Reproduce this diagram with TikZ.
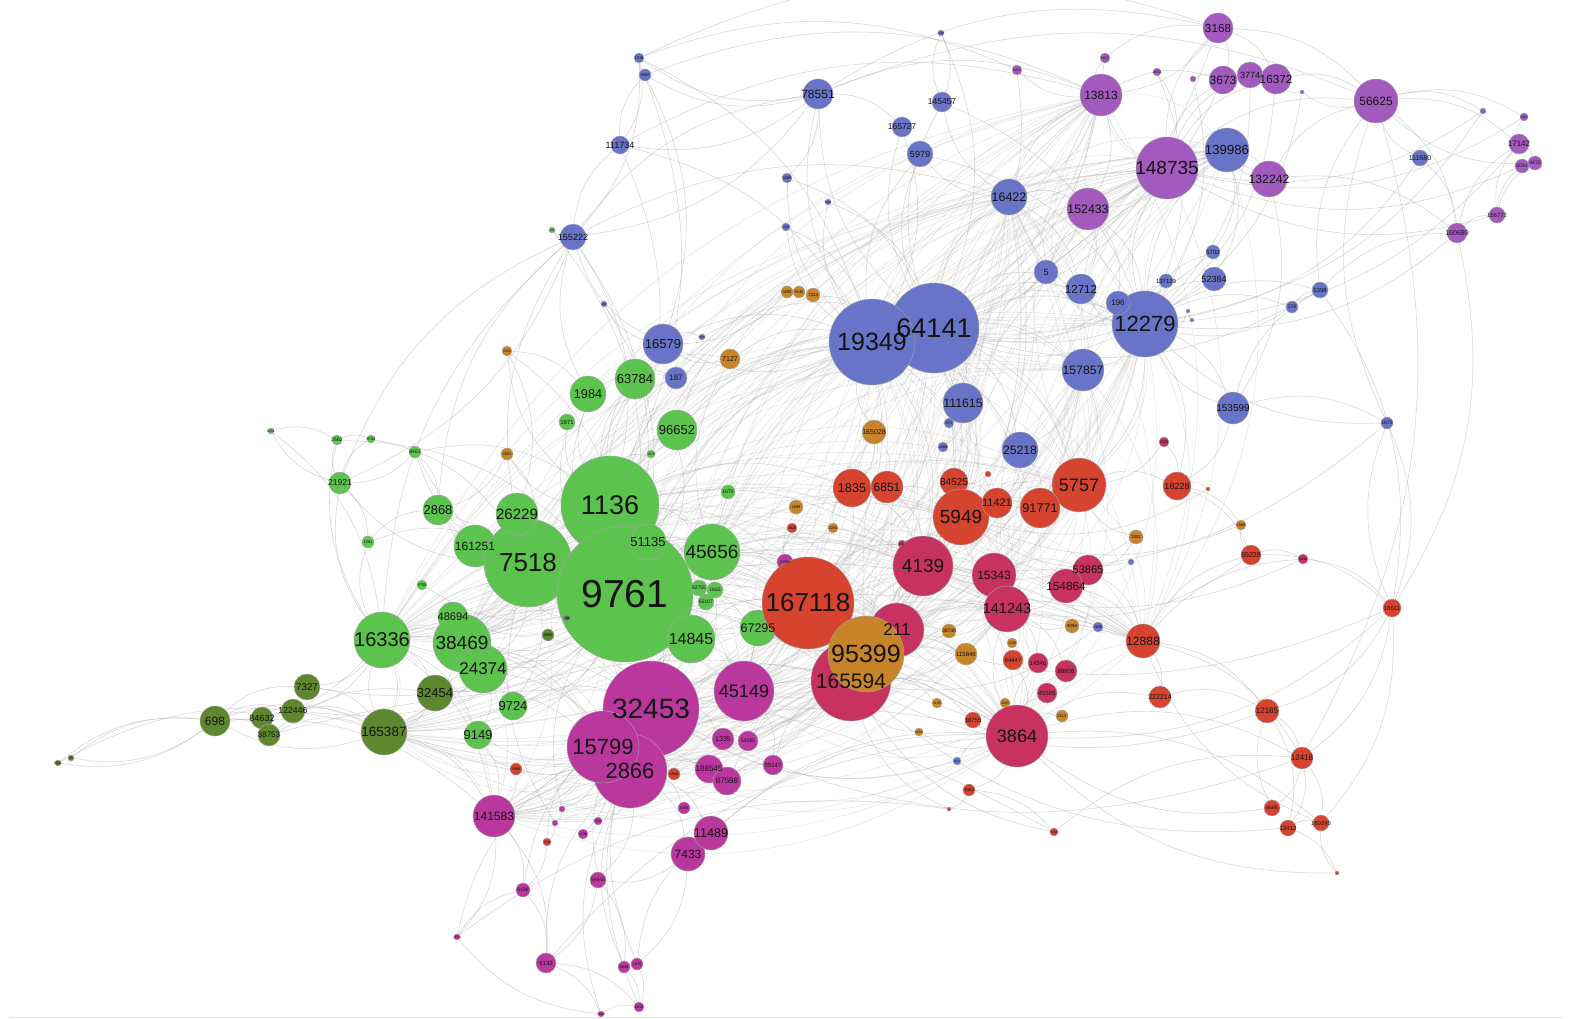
\documentclass[tikz,border=0pt]{standalone}
\usepackage{fontspec}
\setmainfont{Liberation Sans}
\pgfdeclarelayer{bg}
\pgfsetlayers{bg,main}
\definecolor{cB}{RGB}{104,116,200}
\definecolor{cP}{RGB}{162,90,190}
\definecolor{cG}{RGB}{92,196,78}
\definecolor{cD}{RGB}{94,136,46}
\definecolor{cO}{RGB}{200,132,40}
\definecolor{cR}{RGB}{214,68,48}
\definecolor{cC}{RGB}{200,50,96}
\definecolor{cM}{RGB}{186,56,158}
\tikzset{
  vtx/.style={circle, inner sep=0pt, draw=black!35, line width=0.4pt},
  lbl/.style={inner sep=0pt, text=black!92},
  edge/.style={draw=black!32, line width=0.55pt, opacity=0.5},
  edgeb/.style={draw=black!30, line width=0.5pt, opacity=0.35},
}
\def\NL{%
p1/1017/70/5/cP/1241/3.5,
p2/1105/58/5/cP/5617/3.5,
p3/1157/72/4/cP/14611/3.5,
p4/1193/79/3/cP//3,
b5/941/33/3/cB/1234/3,
b9/1302/92/2/cB//3,
b10/1483/111/3/cB//3,
p5/1524/117/4/cP/1654/3.5,
b1/639/58/5/cB/1518/4,
b2/645/75/6/cB/9988/4,
b111734/620/145/9/cB/111734/9,
b155222/573/237/13/cB/155222/9,
g1/552/230/3/cG/445/3,
b3/604/304/3/cB/162/3,
b4/702/337/3/cB/1567/3,
b6/787/178/5/cB/5089/4,
b7/828/202/3/cB/1441/3,
b8/786/227/4/cB/1445/3.5,
b78551/818/94/15/cB/78551/12,
b145457/942/102/10/cB/145457/8.5,
b165727/902/127/10/cB/165727/8.5,
b5979/920/154/13/cB/5979/9,
b16422/1009/197/18/cB/16422/12.5,
p13813/1101/95/21/cP/13813/12,
p152433/1088/209/21/cP/152433/12.3,
p148735/1167/168/31/cP/148735/19,
p3168/1218/28/15/cP/3168/11.7,
p3673/1223/80/14/cP/3673/12,
p16372/1276/79/15/cP/16372/11.7,
p3774/1250/75/13/cP/3774/9,
b139986/1227/150/22/cB/139986/13.2,
p132242/1269/179/18/cP/132242/12.2,
p56625/1376/101/22/cP/56625/12,
b111680/1420/158/8/cB/111680/7,
p17142/1519/144/10/cP/17142/8,
p6/1522/166/7/cP/6591/5,
p7/1535/163/7/cP/4473/5,
p156772/1497/215/8/cP/156772/6,
p160689/1457/233/10/cP/160689/7,
b5702/1213/252/7/cB/5702/6,
b52384/1214/279/12/cB/52384/9,
b1398/1320/290/8/cB/1398/6,
b379/1292/307/6/cB/379/5,
b11/1188/311/2/cB//3,
b12/1192/320/2/cB//3,
bfive/1046/272/12/cB/5/9,
b12712/1081/289/15/cB/12712/11.6,
b137129/1166/281/7/cB/137129/6,
b12279/1145/324/33/cB/12279/22,
b196/1118/303/12/cB/196/8,
o1/787/292/6/cO/3089/4,
o2/799/292/6/cO/8140/4,
o3/813/295/7/cO/7323/4.5,
b64141/934/328/45/cB/64141/27,
b19349/872/342/43/cB/19349/25,
b16579/663/344/20/cB/16579/13,
b187/676/378/11/cB/187/8,
o7127/730/359/10/cO/7127/7,
o4/507/351/5/cO/4450/3.5,
b157857/1083/370/21/cB/157857/12.2,
b111615/963/403/20/cB/111615/12.3,
b13/949/423/5/cB/870/4,
b14/943/447/5/cB/4868/4,
b25218/1020/450/18/cB/25218/12.2,
b153599/1233/408/16/cB/153599/10,
b15/1387/423/6/cB/1675/5,
o165028/874/432/12/cO/165028/7,
g2/271/431/3/cG/8551/3.5,
g2562/337/440/5/cG/2562/5,
g3/371/439/4/cG/8744/4,
g21921/340/483/11/cG/21921/8.5,
g4/368/542/6/cG/1281/4,
g8461/415/452/6/cG/8461/5,
o5/507/454/6/cO/4591/4,
g63784/635/379/20/cG/63784/13,
g1984/588/394/18/cG/1984/12.7,
g1971/567/422/8/cG/1971/6,
g96652/677/430/20/cG/96652/13,
g5/651/454/4/cG/1670/3.5,
g1670/728/492/7/cG/1670/5,
g2868/438/510/15/cG/2868/13,
g161251/475/546/21/cG/161251/12,
g7518/528/563/44/cG/7518/26,
g26229/517/514/21/cG/26229/15,
g1136/610/505/49/cG/1136/27,
g9761/625/594/68/cG/9761/39,
g51135/648/542/18/cG/51135/13,
g45656/712/552/28/cG/45656/19,
g62755/699/588/8/cG/62755/5,
g1665/715/590/8/cG/1665/5,
g62107/706/602/8/cG/62107/5,
g8700/422/585/5/cG/8700/4,
g48694/453/617/15/cG/48694/11,
g38469/462/643/29/cG/38469/19,
g24374/483/669/24/cG/24374/17,
g16336/382/640/28/cG/16336/20,
g14845/691/639/24/cG/14845/16,
g67295/758/628/18/cG/67295/12.5,
g6/567/618/3/black!60/1086/3,
d8550/548/635/6/cD/8550/4,
g9724/513/706/14/cG/9724/13,
g9149/478/735/14/cG/9149/13,
d7327/307/687/13/cD/7327/9.7,
d698/215/721/15/cD/698/12,
d84632/262/718/11/cD/84632/9,
d122446/293/711/12/cD/122446/8.7,
d38753/269/735/11/cD/38753/8,
d165387/384/732/23/cD/165387/13.5,
d32454/435/693/18/cD/32454/13,
d1/58/763/3/cD/6841/3.5,
d2/71/758/3/cD/86/3.5,
o6/796/507/7/cO/1699/4,
o7/833/528/5/cO/2284/4,
r2/792/528/5/cR/4615/4,
m1/785/562/8/cM/15582/4,
r1/988/474/3/cR//3,
c1/1164/442/5/cC/1625/4,
r1835/852/488/19/cR/1835/12.7,
r6851/887/487/16/cR/6851/12,
r84525/954/482/14/cR/84525/10,
r5949/961/517/28/cR/5949/19,
r11421/997/503/15/cR/11421/11,
r5757/1079/485/27/cR/5757/18,
r91771/1040/508/20/cR/91771/12.6,
r18228/1177/486/14/cR/18228/9,
r3/1208/489/2/cR//3,
o8/1136/537/7/cO/1881/4.5,
o15/1241/525/5/cO/1568/4,
r55228/1251/555/10/cR/55228/7,
c3/1303/559/5/cC/5414/4,
r18611/1392/608/9/cR/18611/6,
c2/902/544/4/cC/861/3.5,
c4139/923/566/30/cC/4139/19,
c15343/994/575/22/cC/15343/12,
c141243/1007/609/23/cC/141243/14.5,
c53865/1088/570/15/cC/53865/11,
c154864/1066/586/17/cC/154864/11.8,
b16/1131/562/3/cB//3,
o9/1072/626/7/cO/8086/4.5,
b17/1098/627/5/cB/4685/4,
r12888/1143/641/17/cR/12888/12,
r167118/808/603/46/cR/167118/26,
c165594/851/681/40/cC/165594/21,
c211/897/630/27/cC/211/17,
o95399/866/654/38/cO/95399/25,
o36749/949/631/7/cO/36749/5,
o10/1012/643/5/cO/1268/3.5,
o115846/966/654/11/cO/115846/6,
r84447/1013/660/10/cR/84447/6,
c14346/1038/663/10/cC/14346/6,
c88808/1066/671/11/cC/88808/6,
c45595/1047/693/10/cC/45595/6,
r222214/1160/697/11/cR/222214/7,
o11/937/703/5/cO/1196/3.5,
o12/1005/703/5/cO/4593/3.5,
o13/1062/716/6/cO/4113/4,
r36755/973/720/8/cR/36755/6,
o14/919/732/4/cO/6554/3.5,
c3864/1017/736/31/cC/3864/18,
b18/957/761/4/cB/1121/3,
r4/969/790/6/cR/4863/4.5,
c4/949/809/2/cC//3,
r5/1054/832/4/cR/9154/3.5,
r12185/1267/711/12/cR/12185/8,
r12418/1302/758/11/cR/12418/8,
r6/1272/808/8/cR/6686/5,
r12412/1288/828/8/cR/12412/6,
r160245/1321/823/8/cR/160245/6,
r7/1337/873/2/cR//3,
m32453/651/709/48/cM/32453/28,
m2866/630/771/37/cM/2866/22,
m15799/603/747/36/cM/15799/22,
m45149/744/691/30/cM/45149/18,
m1335/723/739/11/cM/1335/7,
m54285/748/741/10/cM/54285/5,
m188545/709/769/14/cM/188545/8,
m87598/727/781/14/cM/87598/8,
m55147/773/765/10/cM/55147/6,
r8/516/769/6/cR/5968/4,
r9/674/774/6/cR/4508/4,
m141583/494/816/21/cM/141583/12,
m2/684/808/6/cM/1068/4,
m7433/688/854/17/cM/7433/12,
m11489/711/833/17/cM/11489/12.6,
m3/562/809/3/cM//3,
m4/555/823/3/cM//3,
m5/598/821/4/cM/1534/3.5,
m6/583/834/5/cM/1196/3.5,
r10/547/842/4/cR/1548/3.5,
m54645/598/880/8/cM/54645/5,
m6198/523/890/7/cM/6198/5,
m7/457/937/3/cM/1154/3.5,
m6132/546/963/10/cM/6132/6,
m8/624/967/6/cM/6846/4,
m9/637/964/6/cM/1678/4,
m10/639/1007/5/cM/1612/4,
m11/601/1014/3/cM/1569/3.5%
}
\def\EL{%
g9761/g1136, g1136/g9761, g9761/g7518, g7518/g9761, g9761/g26229, g9761/g161251, g9761/g45656, g45656/g9761, g9761/g14845, g9761/g51135, g9761/g38469, g38469/g9761, g9761/g24374, g9761/g16336, g16336/g9761, g9761/g48694, g9761/g63784, g9761/g1984, g9761/g96652, g96652/g9761, g9761/g2868, g9761/g67295, g9761/g9724, g9761/g9149, g9761/g1971, g9761/g8461, g9761/g1670, g9761/g62755, g9761/g8700, g9761/d32454, g9761/d165387, g9761/d7327, g9761/d122446,
g1136/g7518, g1136/g26229, g1136/g63784, g1136/g1984, g1136/g96652, g1136/g45656, g1136/g2868, g1136/g161251, g1136/g14845, g1136/g16336, g1136/g38469, g1136/g1971, g1136/g5,
g7518/g161251, g7518/g26229, g7518/g38469, g7518/g16336, g7518/g2868, g7518/g48694, g7518/g24374, g7518/g21921, g7518/g8461, g7518/g9724,
g16336/g38469, g16336/g24374, g16336/g21921, g16336/d165387, d165387/g16336, g16336/d32454, g16336/d7327, g16336/d698, g16336/g4, g16336/g2562, g16336/g9149, g16336/d122446,
g38469/g24374, g38469/g48694, g38469/d165387, g38469/d32454, g24374/g9724, g24374/g9149, g24374/d32454,
g21921/g2562, g21921/g3, g21921/g2, g2/g2562, g2562/g3, g21921/g4, g4/g2868, g8461/g2868, g8461/g21921,
d698/d1, d1/d698, d698/d2, d2/d698, d698/d84632, d698/d122446, d698/d38753, d698/d7327, d698/d165387, d165387/d698, d84632/d122446, d38753/d165387, d7327/d165387, d122446/d165387, d32454/d165387, d84632/d165387, d38753/d32454,
g9761/b16579, g1136/b16579, g63784/b16579, g1984/b155222, b155222/g1136, g7518/b155222, g16336/b155222, g2868/b155222, b155222/g21921, g1136/b19349, g9761/b19349, g9761/b64141, g96652/b64141, g1984/b187, g63784/b187,
g9761/r167118, r167118/g9761, g45656/r167118, g14845/r167118, g67295/r167118, g9761/c165594, g9761/o95399, g9761/c4139, g1136/c4139, g9761/r5949, g1136/r1835, g45656/c211, g14845/c165594, g9761/m32453, m32453/g9761, g9761/m15799, g9761/m2866, g7518/m2866, g38469/m15799, g24374/m32453, g9761/m45149, g14845/m45149, g16336/m141583, d165387/m141583, d165387/c3864, g7518/c3864, g38469/r12888, d32454/m15799, g9149/m141583, g9724/m32453, g24374/m2866, g45656/o7127, g1136/o5, o5/g2868, o4/g1984, o4/g26229, g1136/o4, g63784/o7127, g96652/o1, g9761/o1, g1136/o3, d8550/g9761, g6/g7518,
b19349/b64141, b64141/b19349, b64141/b12279, b12279/b64141, b64141/b16422, b64141/b111615, b19349/b111615, b19349/b16579, b16579/b19349, b19349/b78551, b64141/b78551, b19349/b5979, b64141/b5979, b64141/b165727, b64141/b145457, b64141/b157857, b19349/b25218, b64141/b12712, b64141/bfive, b12279/b12712, b12279/b196, b12279/bfive, b12279/b157857, b12279/b52384, b12279/b139986, b12279/p148735, b12279/b5702, b12279/b137129, b12279/b153599, b12279/b1398, b12279/b379, b12279/b16422, b16422/p152433, b16422/b5979, b16422/b145457, b16422/bfive, b16422/b12712, b16422/p13813, b78551/b111734, b78551/b155222, b155222/b111734, b111734/b2, b2/b1, b1/b111734, b155222/g1, b78551/b165727, b78551/b2, b78551/b1, b78551/p13813, b1/p1, b2/p13813, b78551/b6, b19349/b6, b19349/b8, b19349/b7, b16579/b155222, b16579/b3, b16579/b4, b16579/b187, b64141/b25218, b111615/b13, b111615/b14, b111615/r5949, b19349/r167118, b64141/r5949, b64141/c4139, b19349/c4139, b64141/r5757, b157857/r5757, b157857/b25218, b25218/r91771, b12279/r5757, b12279/r18228, b139986/b52384, b139986/b5702, b139986/p132242, b153599/r18228, b153599/b12279, b153599/b1398, b153599/b15, b15/r18611, r18611/b15, b15/p56625, b111680/p56625, b111680/p160689, b1398/p160689, b1398/p56625, b379/b1398, b5702/b52384, b111615/r84525, b25218/r11421, b12/b11, b11/b12279,
p148735/p13813, p148735/p3673, p148735/p3168, p148735/p132242, p148735/b139986, p148735/p56625, p148735/p152433, p148735/p16372, p148735/p3774, p3168/p3673, p3168/p13813, p3168/p56625, p3168/p16372, p3673/p3774, p3774/p16372, p16372/p56625, p13813/p152433, p13813/p3673, p13813/p1, p13813/p2, p2/p3168, p3/p148735, p4/p3673, p56625/p17142, p56625/p160689, p56625/b10, p56625/p5, p160689/p156772, p156772/p6, p156772/p7, p17142/p5, p17142/p6, p6/p7, p17142/p7, p160689/p17142, p156772/p17142, p132242/p56625, p132242/b139986, p132242/p160689, p152433/b12712, p152433/b196, p13813/b16422, b78551/p3168, p56625/b9, b9/p16372, p132242/b153599, b5/b145457, b145457/b5, b1/p3168, b78551/p56625, b111734/p13813, b155222/b16422, b155222/b78551, g21921/b155222,
r167118/c165594, c165594/r167118, r167118/o95399, r167118/c211, c211/c165594, o95399/c165594, c211/c4139, c4139/r5949, r5949/r84525, r5949/r11421, r5949/r91771, r5949/r5757, r91771/r5757, r5757/r18228, r1835/r6851, r1835/r167118, r6851/r5949, r6851/c4139, r1835/c4139, r84525/r11421, r5757/r11421, c4139/c15343, c15343/c141243, c141243/c211, c15343/c53865, c53865/c154864, c154864/c141243, c141243/c165594, c4139/c141243, c15343/r5949, c211/o95399, o95399/c141243, c165594/c3864, c3864/c141243, c3864/c88808, c3864/c45595, c3864/c14346, r84447/c3864, c165594/r36755, c165594/o11, r167118/o6, r167118/r2, r167118/o7, o7/r1835, r167118/c2, c2/c4139, r167118/m1, o95399/o36749, o95399/o115846, c165594/o115846, c141243/r84447, c141243/c14346, c141243/c88808, c154864/r12888, c53865/r12888, r12888/r222214, r12888/r55228, r12888/c3, r12888/r12185, r12888/r12418, r55228/r18611, r55228/o15, r55228/c3, c3/r18611, r18228/o15, r18228/r3, r18228/r55228, r12185/r12418, r12418/r6, r12418/r12412, r12418/r160245, r12412/r160245, r12412/r7, r7/r160245, r12185/r12412, r6/r12185, r222214/r12185, c3864/r222214, c3864/r12418, c3864/r4, r4/c4, r4/r5, r5/r12418, c3864/o13, c3864/o12, c3864/o14, o14/c165594, r36755/c3864, r18611/r12418, r18611/r12185, r18611/r160245, c1/r5757, c1/r18228, o8/r5757, o8/c53865, o9/c141243, b17/c154864, b16/c53865, o10/c141243, o165028/b19349, o165028/r1835, o165028/r6851, o1/o2, o2/o3, o3/b19349, o1/b16579, o7127/b16579, o7127/b19349, r1/r84525, b13/b14, b18/c3864, r84525/c4139, r11421/r91771, p56625/r12418, p160689/r18611, b1398/r18611, c3864/r160245,
m32453/m15799, m15799/m32453, m32453/m2866, m15799/m2866, m2866/m15799, m32453/m45149, m45149/m32453, m32453/c165594, m45149/c165594, m45149/r167118, m45149/o95399, m32453/r167118, m2866/c165594, m32453/m1335, m45149/m1335, m45149/m54285, m1335/m54285, m2866/m188545, m2866/m87598, m188545/m87598, m87598/m55147, m45149/m55147, m2866/m11489, m2866/m7433, m11489/m7433, m2866/m2, m2/m11489, m15799/m141583, m141583/m2866, m141583/m6198, m141583/m7, m7/m6198, m6198/m6132, m141583/m6132, m2866/m54645, m54645/m8, m54645/m6132, m6132/m10, m8/m10, m9/m10, m8/m9, m9/m11489, m7433/m9, m6132/m11, m11/m10, m2866/m5, m5/m6, m15799/m6, m15799/m3, m3/m4, m4/r10, r10/m6198, m15799/r8, r8/m141583, r8/g9149, m2866/r9, r9/m188545, m7433/m54645, m11489/c3864, m7433/c3864, m45149/c3864, m55147/c165594, m1/m45149, m54285/c165594, m87598/c165594, m15799/g9149, m32453/g14845,
d165387/r12888, g16336/c3864, m141583/c3864, d698/m141583, m6132/c3864, m7/c4, d38753/r5, m11/m7,
b5/b64141, b1/b19349, b2/g1136, p5/p148735, b10/p148735, p7/p56625, r7/c3864, m10/m32453, m11/m2866, d1/d165387, g2/g16336, g3/g7518, g2562/g9761, b3/g9761, b4/b64141, b6/b64141, b7/b64141, b8/b19349, p1/b64141, p2/b64141, p3/b12279, p4/b12279, b9/b12279, b10/b12279, p6/p148735, b15/b12279, b15/c4139, r18611/c3864, r18611/r167118, r12185/c165594, r12418/m32453, r6/c3864, r12412/c165594, r160245/r12888, r55228/c141243, c3/c4139, o15/r5949, r3/r5949, o8/c4139, b16/r5949, b17/c165594, r5/c165594, c4/c165594, b18/m32453, m8/m2866, m9/m32453, m6198/m32453, m7/m15799, m54645/m32453, m6132/m2866, m3/g9761, m4/g7518, r10/m15799, g4/g7518, g8461/g1136, o4/g9761, o5/g7518, g1/g9761, b155222/g9761, b111734/g1136, b111734/b19349, b2/b16579, b1/b155222, b165727/b19349, b145457/b12279, b5979/b12279, bfive/p148735, b12712/p148735, b196/b64141, b137129/b64141, b5702/b64141, b52384/b64141, b379/b12279, b1398/b64141, b111680/b12279, p17142/b12279, p160689/b12279, p156772/p148735, p3168/b64141, p16372/b12279, p3774/b12279, p3673/b64141, p13813/b64141, p152433/b64141, p152433/b12279%
}
\def\HL{g9761,g1136,g7518,g16336,g38469,g45656,b19349,b64141,b12279,b16422,b157857,r167118,c165594,o95399,c211,c4139,r5949,r5757,c141243,c3864,m32453,m2866,m15799,m45149,p148735,p13813,b139986,r12888,d165387,m141583}
\begin{document}
\begin{tikzpicture}[x=1pt,y=-1pt]
\useasboundingbox (0,0) rectangle (1575,1019);
\foreach \n/\x/\y/\r/\c/\t/\f in \NL {
  \node[vtx, fill=\c, minimum size={2*\r}] (\n) at (\x,\y) {};
}
\begin{pgfonlayer}{bg}
\fill[white] (0,0) rectangle (1575,1019);
\draw[black!10, line width=1pt] (10,1017) -- (1565,1017);
\foreach \a/\b in \EL {
  \draw[edge] (\a) to[bend left=22] (\b);
}
\foreach \a [count=\i] in \HL {
  \foreach \b [count=\j] in \HL {
    \ifnum\j>\i
      \draw[edgeb] (\a) to[bend left=26] (\b);
    \fi
  }
}
\end{pgfonlayer}
\foreach \n/\x/\y/\r/\c/\t/\f in \NL {
  \node[lbl, font=\fontsize{\f}{\f}\selectfont] (l\n) at (\n.center) {\t};
}
\end{tikzpicture}
\end{document}
